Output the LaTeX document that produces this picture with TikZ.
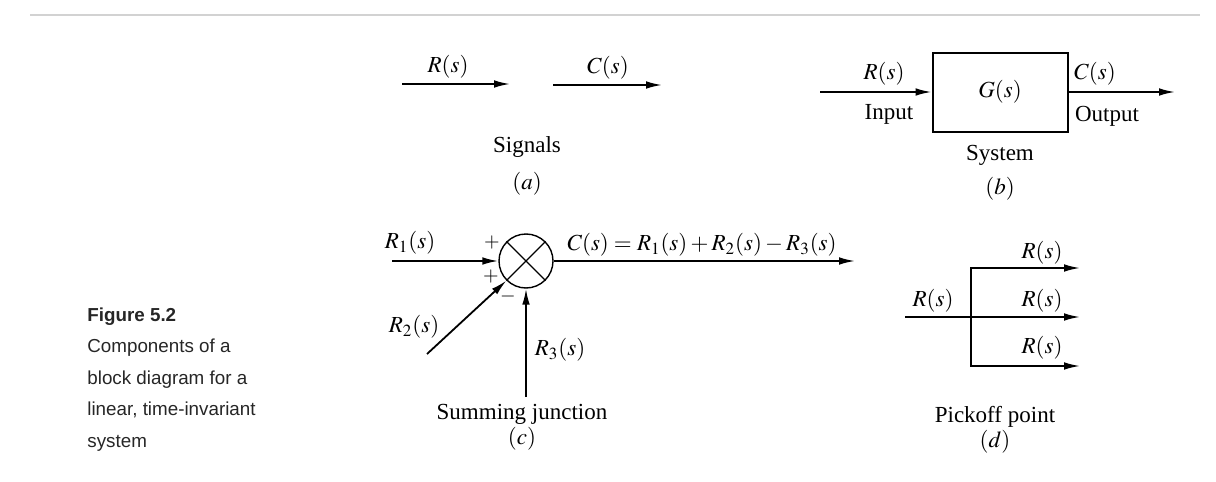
\documentclass[tikz,border=0pt]{standalone}
\usepackage{mathptmx}
\usepackage{fontspec}
\setmainfont{Liberation Serif}
\newfontfamily\capfont{Liberation Sans}
\usepackage{tikz}
\usetikzlibrary{arrows.meta, positioning}
\tikzset{
  sigarrow/.style={
    -{Latex[length=8pt,width=3.8pt]}, line width=0.9pt
  },
  sigline/.style={line width=0.9pt},
  siglabel/.style={
    font=\fontsize{11.5}{14}\selectfont, inner sep=0pt
  },
  signlabel/.style={
    font=\fontsize{10}{12}\selectfont, inner sep=0pt
  },
  sysbox/.style={
    draw, line width=1pt, minimum width=67.5pt, minimum height=39.5pt,
    font=\fontsize{11.5}{14}\selectfont, inner sep=0pt
  },
  sumjunction/.style={
    draw, circle, line width=0.7pt, minimum size=27pt, inner sep=0pt
  },
  captext/.style={
    font=\capfont\fontsize{9.4}{15.75}\selectfont, text=black!85,
    align=left, anchor=north west, inner sep=0pt
  },
}

\begin{document}
\begin{tikzpicture}[x=0.5pt, y=-0.5pt]
  \useasboundingbox (0,0) rectangle (1216,482);

  % rule at the top of the figure
  \coordinate (ruleL) at (30,15);
  \coordinate (ruleR) at (1200,15);
  \draw[gray!35, line width=0.8pt] (ruleL) -- (ruleR);

  % ---- (a) Signals ----
  \coordinate (ain1) at (402,84);
  \coordinate (aout1) at (510,84);
  \coordinate (ain2) at (553,85);
  \coordinate (aout2) at (662,85);
  \draw[sigarrow] (ain1) -- (aout1);
  \draw[sigarrow] (ain2) -- (aout2);
  \node[siglabel] (aR) at (448,67) {$R(s)$};
  \node[siglabel] (aC) at (608,68) {$C(s)$};
  \node[siglabel] (asig) at (527,147) {Signals};
  \node[siglabel] (atag) at (527,184) {$(a)$};

  % ---- (b) System ----
  \node[sysbox] (gbox) at (1000,92) {$G(s)$};
  \coordinate (bin) at (820,92);
  \coordinate (bout) at (1175,92);
  \draw[sigarrow] (bin) -- (gbox.west);
  \draw[sigarrow] (gbox.east) -- (bout);
  \node[siglabel] (bR) at (884,74) {$R(s)$};
  \node[siglabel] (binput) at (889,114) {Input};
  \node[siglabel] (bC) at (1095,74) {$C(s)$};
  \node[siglabel] (boutput) at (1107,116) {Output};
  \node[siglabel] (bsys) at (1000,155) {System};
  \node[siglabel] (btag) at (1000,189) {$(b)$};

  % ---- (c) Summing junction ----
  \node[sumjunction] (sum) at (526,261) {};
  \draw[line width=0.6pt] (sum.north west) -- (sum.south east)
    (sum.north east) -- (sum.south west);
  \coordinate (cin1) at (392,261);
  \coordinate (cin2) at (427,354);
  \coordinate (cin3) at (526,397);
  \coordinate (cout) at (855,261);
  \draw[sigarrow] (cin1) -- (sum.west);
  \draw[sigarrow] (cin2) -- (sum.south west);
  \draw[sigarrow] (cin3) -- (sum.south);
  \draw[sigarrow] (sum.east) -- (cout);
  \node[siglabel] (cR1) at (410,243) {$R_1(s)$};
  \node[siglabel] (cR2) at (414,327) {$R_2(s)$};
  \node[siglabel] (cR3) at (560,350) {$R_3(s)$};
  \node[signlabel] (cp1) at (492,243) {$+$};
  \node[signlabel] (cp2) at (491,277) {$+$};
  \node[signlabel] (cm3) at (508,296) {$-$};
  \node[siglabel] (cC) at (702,245) {$C(s) = R_1(s) + R_2(s) - R_3(s)$};
  \node[siglabel] (csum) at (522,414) {Summing junction};
  \node[siglabel] (ctag) at (522,439) {$(c)$};

  % ---- (d) Pickoff point ----
  \coordinate (pk) at (971,317);
  \coordinate (din) at (905,317);
  \coordinate (dout1) at (1080,268);
  \coordinate (dout2) at (1080,317);
  \coordinate (dout3) at (1080,366);
  \draw[sigarrow] (din) -- (dout2);
  \draw[sigarrow] (pk) |- (dout1);
  \draw[sigarrow] (pk) |- (dout3);
  \node[siglabel] (dR) at (933,301) {$R(s)$};
  \node[siglabel] (dR1) at (1042,253) {$R(s)$};
  \node[siglabel] (dR2) at (1042,301) {$R(s)$};
  \node[siglabel] (dR3) at (1042,348) {$R(s)$};
  \node[siglabel] (dpick) at (995,417) {Pickoff point};
  \node[siglabel] (dtag) at (995,442) {$(d)$};

  % caption
  \node[captext] (caption) at (87,307)
    {\textbf{Figure 5.2}\\Components of a\\block diagram for a\\linear, time-invariant\\system};
\end{tikzpicture}
\end{document}
